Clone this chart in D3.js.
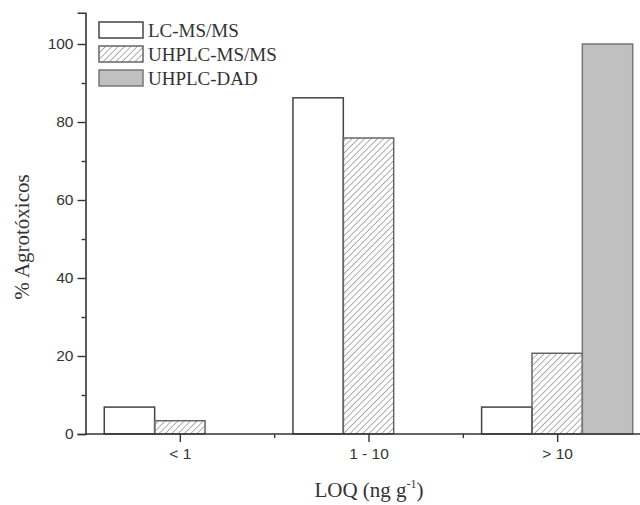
<!DOCTYPE html>
<html>
<head>
<meta charset="utf-8">
<script src="https://cdn.jsdelivr.net/npm/d3@7"></script>
<style>
  html, body { margin: 0; padding: 0; background: #fff; }
</style>
</head>
<body>
<div id="chart"></div>
<script>
// data (% of pesticides per LOQ range)
const categories = ["< 1", "1 - 10", "> 10"];
const seriesNames = ["LC-MS/MS", "UHPLC-MS/MS", "UHPLC-DAD"];
const lcmsms = [6.9, 86.2, 6.9];
const uhplcmsms = [3.4, 75.9, 20.7];
const uhplcdad = [0, 0, 100];
const yTicks = [0, 20, 40, 60, 80, 100];
const yMinorTicks = [10, 30, 50, 70, 90];

const series = [lcmsms, uhplcmsms, uhplcdad];

const width = 640, height = 505;

const svg = d3.select("#chart").append("svg")
    .attr("xmlns", "http://www.w3.org/2000/svg")
    .attr("width", width)
    .attr("height", height);

// hatch for the middle series
const defs = svg.append("defs");
defs.append("pattern")
    .attr("id", "hatch")
    .attr("patternUnits", "userSpaceOnUse")
    .attr("width", 4.5)
    .attr("height", 4.5)
    .attr("patternTransform", "rotate(45)")
    .append("line")
    .attr("x1", 0).attr("y1", 0)
    .attr("x2", 0).attr("y2", 4.5)
    .attr("stroke", "#777")
    .attr("stroke-width", 1.2);

const fills = ["#fff", "url(#hatch)", "#c0c0c0"];
const strokes = ["#444", "#666", "#777"];

// scales: categories sit at 1, 2, 3
const x = d3.scaleLinear().domain([0.5, 3.5]).range([85.5, 651.5]);
const y = d3.scaleLinear().domain([0, 108]).range([434, 12.8]);
const barW = 0.267;

// bars
series.forEach((vals, j) => {
    const pts = vals.map((v, i) => ({ v, pos: i + 1 })).filter(d => d.v > 0);
    svg.append("g").selectAll("rect")
        .data(pts)
        .join("rect")
        .attr("x", d => x(d.pos + (j - 1.5) * barW))
        .attr("width", x(barW) - x(0))
        .attr("y", d => y(d.v))
        .attr("height", d => y(0) - y(d.v))
        .attr("fill", fills[j])
        .attr("stroke", strokes[j])
        .attr("stroke-width", 1.5);
});

const axisColor = "#333";

// y axis
svg.append("g")
    .attr("transform", `translate(${x(0.5)},0)`)
    .call(d3.axisLeft(y).tickValues(yTicks).tickSize(8).tickPadding(4));
svg.append("g")
    .attr("transform", `translate(${x(0.5)},0)`)
    .call(d3.axisLeft(y).tickValues(yMinorTicks).tickSize(4).tickFormat(""))
    .select(".domain").remove();

// x axis
const xAxis = svg.append("g")
    .attr("transform", `translate(0,${y(0)})`)
    .call(d3.axisBottom(x).tickValues([1, 2, 3]).tickSize(8).tickPadding(6)
        .tickFormat((d, i) => categories[i]));
svg.append("g")
    .attr("transform", `translate(0,${y(0)})`)
    .call(d3.axisBottom(x).tickValues([1.5, 2.5]).tickSize(4).tickFormat(""))
    .select(".domain").remove();

svg.selectAll(".domain").attr("stroke", axisColor).attr("stroke-width", 1.6);
svg.selectAll(".tick line").attr("stroke", axisColor).attr("stroke-width", 1.4);
svg.selectAll(".tick text")
    .attr("fill", "#333")
    .attr("font-family", "Liberation Sans, Arial, sans-serif")
    .attr("font-size", 15.5);
xAxis.select(".domain").attr("d", `M${x(0.5)},0H${width}`);

// axis titles
svg.append("text")
    .attr("transform", "translate(29,237) rotate(-90)")
    .attr("text-anchor", "middle")
    .attr("font-family", "Liberation Serif, Times New Roman, serif")
    .attr("font-size", 21)
    .attr("fill", "#333")
    .text("% Agrotóxicos");

const xt = svg.append("text")
    .attr("x", 369)
    .attr("y", 497)
    .attr("text-anchor", "middle")
    .attr("font-family", "Liberation Serif, Times New Roman, serif")
    .attr("font-size", 21)
    .attr("fill", "#333");
xt.append("tspan").text("LOQ (ng g");
xt.append("tspan").attr("font-size", 12).attr("dy", -9).text("-1");
xt.append("tspan").attr("dy", 9).text(")");

// legend
const legend = svg.append("g").attr("transform", "translate(99,22)");
seriesNames.forEach((name, j) => {
    const row = legend.append("g").attr("transform", `translate(0,${j * 24})`);
    row.append("rect")
        .attr("width", 44).attr("height", 16)
        .attr("fill", fills[j])
        .attr("stroke", strokes[j])
        .attr("stroke-width", 1.5);
    row.append("text")
        .attr("x", 49).attr("y", 15)
        .attr("font-family", "Liberation Serif, Times New Roman, serif")
        .attr("font-size", 19)
        .attr("fill", "#333")
        .text(name);
});
</script>
</body>
</html>
